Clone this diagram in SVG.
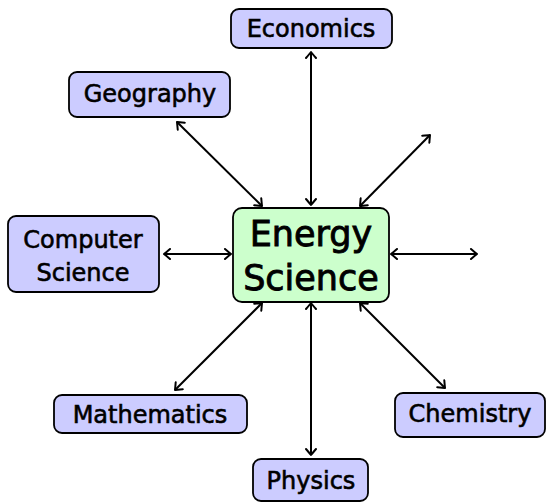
<svg xmlns="http://www.w3.org/2000/svg" width="546" height="504" viewBox="0 0 546 504">
<defs>
<marker id="arr" viewBox="-8 -6 10 12" refX="0" refY="0" markerWidth="10" markerHeight="12" markerUnits="userSpaceOnUse" orient="auto-start-reverse">
<path d="M -6,-5 Q -1.5,-1.2 0,0 Q -1.5,1.2 -6,5" fill="none" stroke="#000" stroke-width="2" stroke-linecap="round" stroke-linejoin="round"/>
</marker>
</defs>
<style>
.n rect{fill:#ccccff;stroke:#000;stroke-width:1.8}
.c rect{fill:#ccffcc;stroke:#000;stroke-width:1.8}
text{font-family:"DejaVu Sans",sans-serif;text-anchor:middle;fill:#000;stroke:#000}
.n text{font-size:24px;stroke-width:0.6}
.c text{font-size:35px;stroke-width:0.9}
#edges line{stroke:#000;stroke-width:2;marker-start:url(#arr);marker-end:url(#arr)}
</style>
<g id="edges">
<line x1="311" y1="52" x2="311" y2="205"/>
<line x1="177" y1="122" x2="262" y2="206"/>
<line x1="360" y1="206" x2="430" y2="135"/>
<line x1="164" y1="254" x2="231" y2="254"/>
<line x1="391" y1="254" x2="477" y2="254"/>
<line x1="262" y1="303" x2="175" y2="390"/>
<line x1="311" y1="303" x2="311" y2="455"/>
<line x1="360" y1="303" x2="445" y2="388"/>
</g>
<g id="energy" class="c">
<rect x="233" y="208" width="156" height="94" rx="9"/>
<text x="311" y="246">Energy</text>
<text x="311" y="290">Science</text>
</g>
<g id="economics" class="n">
<rect x="231" y="9" width="161" height="39" rx="8"/>
<text x="311" y="37">Economics</text>
</g>
<g id="geography" class="n">
<rect x="69" y="72" width="161" height="45" rx="8"/>
<text x="150" y="102">Geography</text>
</g>
<g id="computer" class="n">
<rect x="8" y="216" width="151" height="76" rx="8"/>
<text x="83" y="248">Computer</text>
<text x="83" y="281">Science</text>
</g>
<g id="mathematics" class="n">
<rect x="54" y="395" width="193" height="38" rx="8"/>
<text x="150" y="423">Mathematics</text>
</g>
<g id="physics" class="n">
<rect x="253" y="459" width="115" height="42" rx="8"/>
<text x="311" y="489">Physics</text>
</g>
<g id="chemistry" class="n">
<rect x="395" y="393" width="150" height="44" rx="8"/>
<text x="470" y="422">Chemistry</text>
</g>
</svg>
